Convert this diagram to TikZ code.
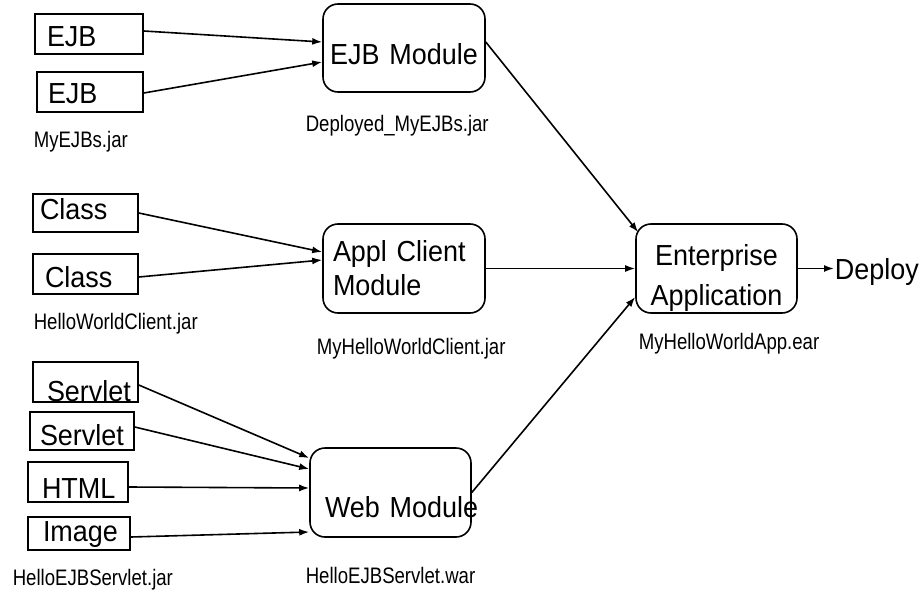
\documentclass[tikz,border=0pt]{standalone}
\usepackage{fontspec}
\setmainfont{Liberation Sans}
\newfontfamily\partfont[FakeStretch=0.93,WordSpace=0.7]{Liberation Sans}
\newfontfamily\archivefont[FakeStretch=0.83]{Liberation Sans}
\usetikzlibrary{arrows.meta}

\newcommand{\boxlabel}{\partfont\fontsize{14.5pt}{17.4pt}\selectfont}
\newcommand{\jarlabel}{\archivefont\fontsize{11.2pt}{13.4pt}\selectfont}

\tikzset{
	part/.style={draw, rectangle, font=\boxlabel, align=left, inner ysep=0pt,
		inner xsep=5pt, text width=42pt, text height=16pt, text depth=4pt},
	module/.style={draw, rectangle, rounded corners=7.5pt, font=\boxlabel,
		inner ysep=0pt, inner xsep=0pt, text width=81pt, align=center},
	jar/.style={font=\jarlabel, inner sep=0pt, anchor=base west}
}

\begin{document}
\begin{tikzpicture}[->,>={Latex[length=5pt,width=3.5pt]},thick,x=0.5pt,y=-0.5pt]
		\useasboundingbox (0,0) rectangle (920,599);

		% parts
		\node[part, inner xsep=6pt, text height=16.5pt, text depth=3.5pt] (ejbA) at (89,34) {EJB};
		\node[part, inner xsep=5.5pt] (ejbB) at (90,92) {EJB};
		\node[part, inner xsep=3.5pt, text width=45.5pt, text height=12.5pt, text depth=6.5pt] (classA) at (85.5,213) {Class};
		\node[part, inner xsep=6pt, text width=40.5pt, text height=16.5pt, text depth=3.5pt] (classB) at (85.5,274) {Class};
		\node[part, inner xsep=7pt, text width=38.5pt, text height=19.5pt, text depth=0.5pt] (servA) at (85.5,382) {Servlet};
		\node[part, text height=16.5pt, text depth=2.5pt] (servB) at (82,431) {Servlet};
		\node[part, inner xsep=7pt, text width=36pt, text height=18pt, text depth=2pt] (html) at (78,482) {HTML};
		\node[part, inner xsep=7.5pt, text width=36pt, text height=12pt, text depth=4.5pt] (image) at (79,533.5) {Image};

		% modules
		\node[module, text height=30.5pt, text depth=13.5pt] (ejbmod) at (404,48) {EJB Module};
		\node[module, align=left, inner xsep=5pt, text width=71pt, text height=18.5pt, text depth=26pt] (appl) at (404,268.5) {Appl Client\\Module};
		\node[module, text width=80.5pt, text height=20.75pt, text depth=23.75pt] (ent) at (716.5,268.5) {Enterprise\\[2.5pt]Application};
		\node[module, align=left, inner xsep=7.5pt, text width=65.5pt, text height=34.5pt, text depth=10pt] (web) at (390.5,492.5) {\mbox{Web Module}};
		\node[font=\boxlabel, inner sep=0pt, anchor=base west] (deploy) at (834,279) {Deploy};

		% archive names
		\node[jar] (ejbjar)     at (33,148)  {MyEJBs.jar};
		\node[jar] (ejbmodjar)  at (305,132) {Deployed\_MyEJBs.jar};
		\node[jar] (clientjar)  at (33,329)  {HelloWorldClient.jar};
		\node[jar] (appljar)    at (316,354) {MyHelloWorldClient.jar};
		\node[jar] (entear)     at (638,349) {MyHelloWorldApp.ear};
		\node[jar] (servletjar) at (12,585)  {HelloEJBServlet.jar};
		\node[jar] (webwar)     at (305,583) {HelloEJBServlet.war};

		\path
			([yshift=1.5pt]ejbA.east)    edge ([yshift=3pt]ejbmod.west)
			([yshift=-0.5pt]ejbB.east)   edge ([yshift=-7pt]ejbmod.west)
			(classA.east)                edge ([yshift=8.25pt]appl.west)
			([yshift=-1.5pt]classB.east) edge ([yshift=4.25pt]appl.west)
			([yshift=-1.5pt]servA.east)  edge ([yshift=17.25pt]web.west)
			([yshift=2pt]servB.east)     edge ([yshift=11.75pt]web.west)
			([yshift=-2.5pt]html.east)   edge ([yshift=2.25pt]web.west)
			([yshift=-1.75pt]image.east) edge ([yshift=-19.75pt]web.west)
			([yshift=3pt]ejbmod.east)    edge ([xshift=1.5pt,yshift=-4.5pt]ent.north west)
			(appl.east)                  edge (ent.west)
			(web.east)                   edge ([yshift=-14.25pt]ent.west)
			(ent.east)                   edge (ent.east -| deploy.west);
	\end{tikzpicture}
\end{document}
